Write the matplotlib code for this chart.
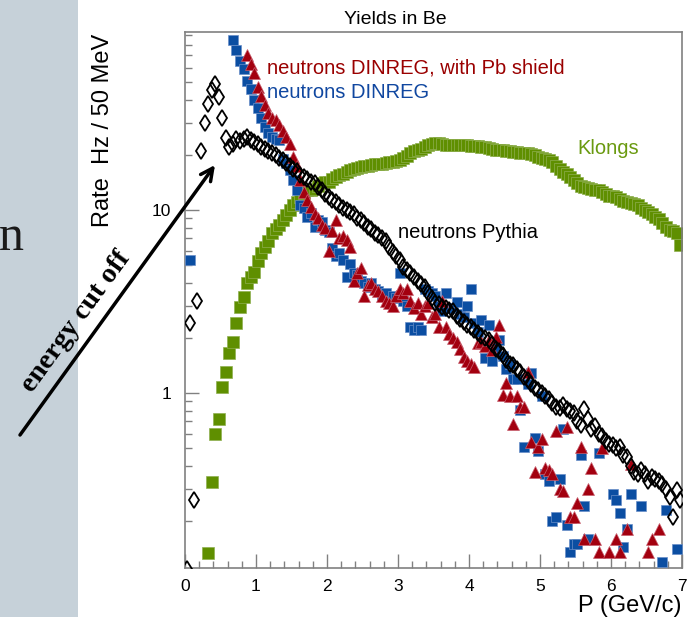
import numpy as np
import matplotlib
matplotlib.use('Agg')
import matplotlib.pyplot as plt
from matplotlib.patches import Rectangle
from matplotlib.ticker import MultipleLocator, LogLocator, FuncFormatter, NullFormatter

plt.rcParams['font.family'] = ['Liberation Sans', 'DejaVu Sans']

# 50 MeV momentum bins, centres in GeV/c
bins = np.round(np.arange(0.025, 7.0, 0.05), 3)

# neutrons, Pythia (one value per bin, 0.025 .. 6.975)
pythia = [
    0.11, 2.4, 0.26, 3.2, 21, 30, 38, 45, 48.7, 41.6,
    31.7, 24.6, 22, 23, 24.5, 23.8, 24.5, 25, 24, 23.5,
    23, 22, 21.5, 21, 20.5, 20, 19.3, 18.7, 18, 17.3,
    16.8, 16.3, 15.5, 15.2, 14.8, 14.3, 14, 13.3, 12.8, 12.2,
    11.8, 11.3, 11, 10.6, 10.3, 10, 9.7, 9.5, 9.1, 8.8,
    8.5, 8.1, 7.9, 7.5, 7.3, 7.0, 6.8, 6.3, 5.9, 5.6,
    5.3, 4.9, 4.7, 4.5, 4.3, 4.1, 3.95, 3.8, 3.5, 3.3,
    3.1, 3.05, 2.95, 2.9, 2.85, 2.8, 2.65, 2.55, 2.45, 2.35,
    2.3, 2.2, 2.12, 2.05, 2.0, 1.95, 1.85, 1.75, 1.7, 1.62,
    1.52, 1.45, 1.42, 1.35, 1.3, 1.22, 1.18, 1.12, 1.06, 1.04,
    1.0, 0.96, 0.93, 0.88, 0.84, 0.83, 0.86, 0.82, 0.8, 0.78,
    0.70, 0.67, 0.82, 0.72, 0.64, 0.66, 0.6, 0.58, 0.55, 0.53,
    0.52, 0.50, 0.51, 0.46, 0.45, 0.40, 0.37, 0.36, 0.38, 0.36,
    0.33, 0.35, 0.34, 0.33, 0.32, 0.30, 0.27, 0.21, 0.295, 0.26,
]

# K longs (bins 0.325 .. 6.975)
klong = [
    0.134, 0.327, 0.60, 0.72, 1.08, 1.30, 1.65, 1.89, 2.42, 2.95,
    3.33, 3.98, 4.3, 4.6, 5.25, 5.8, 6.3, 6.8, 7.5, 7.9,
    8.3, 8.8, 9.4, 10.0, 10.6, 11.1, 11.8, 12.4, 12.8, 12.9,
    13.1, 13.5, 14.0, 14.2, 14.3, 14.8, 15.2, 15.5, 15.8, 16.2,
    16.5, 16.8, 17.0, 17.2, 17.5, 17.5, 17.6, 17.8, 17.9, 17.9,
    18.0, 18.2, 18.4, 18.6, 18.7, 19.3, 19.8, 20.5, 21.0, 21.2,
    21.6, 22.2, 22.7, 23.0, 23.1, 23.2, 23.0, 22.6, 22.6, 22.8,
    22.7, 22.6, 22.6, 22.6, 22.5, 22.4, 22.3, 22.2, 22.0, 21.8,
    21.6, 21.4, 21.2, 21.2, 21.0, 20.9, 20.8, 20.7, 20.6, 20.5,
    20.4, 20.3, 20.0, 19.5, 19.2, 18.9, 18.7, 18.2, 17.5, 16.8,
    16.2, 15.8, 15.2, 14.6, 14.0, 13.6, 13.4, 13.2, 13.0, 12.9,
    12.8, 12.6, 12.2, 12.0, 11.9, 11.8, 11.5, 11.2, 11.0, 10.9,
    10.8, 10.6, 10.3, 10.0, 9.8, 9.5, 9.2, 8.9, 8.5, 8.1,
    7.8, 7.7, 7.5, 6.4,
]

# neutrons DINREG (no shield)
p_dinreg = [
    0.075, 0.675, 0.725, 0.775, 0.825, 0.875, 0.925, 0.975, 1.025, 1.075,
    1.125, 1.175, 1.225, 1.275, 1.325, 1.375, 1.425, 1.475, 1.525, 1.575,
    1.625, 1.675, 1.725, 1.775, 1.825, 1.875, 1.925, 1.975, 2.025, 2.075,
    2.125, 2.175, 2.225, 2.275, 2.325, 2.375, 2.425, 2.475, 2.525, 2.575,
    2.625, 2.675, 2.725, 2.775, 2.825, 2.875, 2.925, 2.975, 3.025, 3.075,
    3.125, 3.175, 3.225, 3.275, 3.325, 3.375, 3.425, 3.475, 3.525, 3.575,
    3.625, 3.675, 3.725, 3.775, 3.825, 3.875, 3.925, 3.975, 4.025, 4.075,
    4.125, 4.175, 4.225, 4.275, 4.325, 4.375, 4.425, 4.475, 4.525, 4.575,
    4.625, 4.675, 4.725, 4.775, 4.825, 4.875, 4.925, 4.975, 5.025, 5.075,
    5.125, 5.175, 5.225, 5.275, 5.325, 5.375, 5.425, 5.475, 5.525, 5.575,
    5.625, 5.675, 5.825, 6.025, 6.075, 6.125, 6.175, 6.225, 6.275, 6.425,
    6.725, 6.775, 6.925,
]
n_dinreg = [
    5.3, 85, 75, 65, 59, 51, 46, 40, 36, 32,
    28.5, 26.5, 25, 24.5, 24, 19, 18, 16.6, 14.5, 12.9,
    10.6, 10.2, 9.2, 9.6, 8.1, 8.8, 8.6, 7.8, 7.6, 6.2,
    5.6, 5.8, 5.3, 4.3, 5.1, 4.5, 4.4, 4.1, 4.0, 3.8,
    4.0, 3.7, 3.6, 3.4, 3.5, 3.2, 3.4, 3.3, 4.5, 3.2,
    3.0, 2.3, 2.2, 2.3, 2.2, 3.7, 3.6, 3.5, 3.4, 3.0,
    2.8, 3.5, 2.9, 2.9, 3.16, 2.7, 2.6, 3.0, 3.7, 2.4,
    2.15, 2.5, 1.55, 2.35, 1.5, 1.75, 1.95, 1.6, 1.36, 1.45,
    1.2, 1.2, 0.81, 0.51, 1.12, 1.28, 0.57, 0.48, 0.96, 0.36,
    0.33, 0.20, 0.21, 0.34, 0.64, 0.19, 0.136, 0.15, 0.15, 0.46,
    0.24, 0.16, 0.47, 0.28, 0.26, 0.22, 0.145, 0.18, 0.28, 0.24,
    0.12, 0.23, 0.14,
]

# neutrons DINREG with Pb shield
p_shield = [
    0.875, 0.925, 0.975, 1.025, 1.075, 1.125, 1.175, 1.225, 1.275, 1.325,
    1.375, 1.425, 1.475, 1.525, 1.575, 1.625, 1.675, 1.725, 1.775, 1.825,
    1.875, 1.925, 1.975, 2.025, 2.075, 2.125, 2.175, 2.225, 2.275, 2.325,
    2.375, 2.425, 2.475, 2.525, 2.575, 2.625, 2.675, 2.725, 2.775, 2.825,
    2.875, 2.925, 2.975, 3.025, 3.075, 3.125, 3.175, 3.225, 3.275, 3.325,
    3.375, 3.425, 3.475, 3.525, 3.575, 3.625, 3.675, 3.725, 3.775, 3.825,
    3.875, 3.925, 3.975, 4.025, 4.075, 4.125, 4.175, 4.225, 4.275, 4.325,
    4.375, 4.425, 4.475, 4.525, 4.575, 4.625, 4.675, 4.725, 4.775, 4.825,
    4.875, 4.925, 4.975, 5.025, 5.075, 5.125, 5.175, 5.225, 5.275, 5.325,
    5.375, 5.425, 5.475, 5.525, 5.575, 5.625, 5.675, 5.725, 5.775, 5.825,
    5.875, 5.975, 6.075, 6.125, 6.225, 6.275, 6.525, 6.575, 6.675,
]
n_shield = [
    70, 63, 56, 47, 42, 37.5, 34, 32, 31, 29,
    27, 25, 23, 19.5, 17.5, 14.6, 12.5, 11.3, 10.4, 9.5,
    9.0, 8.3, 8.0, 6.0, 7.7, 8.8, 7.0, 7.2, 6.9, 6.3,
    4.1, 4.5, 4.8, 3.4, 3.9, 4.0, 3.7, 3.6, 3.4, 3.2,
    3.1, 3.0, 3.4, 3.7, 3.5, 3.7, 3.2, 2.9, 3.1, 2.7,
    3.0, 3.1, 2.6, 2.7, 2.3, 3.2, 2.3, 2.1, 2.0, 1.9,
    1.75, 1.58, 1.5, 1.45, 1.39, 1.87, 1.9, 1.8, 1.95, 1.72,
    2.03, 2.35, 0.97, 1.13, 0.96, 0.68, 0.96, 0.84, 0.84, 1.3,
    0.54, 0.37, 0.51, 0.56, 0.39, 0.38, 0.36, 0.62, 0.30, 0.29,
    0.65, 0.21, 0.21, 0.25, 0.51, 0.16, 0.30, 0.39, 0.16, 0.136,
    0.50, 0.136, 0.16, 0.136, 0.18, 0.41, 0.136, 0.16, 0.18,
]

GREEN = '#5f8f00'
BLUE = '#0b4ea2'
RED = '#a3000f'
GREY = '#808080'

W, H = 693, 617
fig = plt.figure(figsize=(W / 100, H / 100), dpi=100)

# slide background strip on the left
fig.patches.append(Rectangle((0, 0), 78 / W, 1, transform=fig.transFigure,
                             facecolor='#c6d1d9', edgecolor='none', zorder=-10))
fig.text(11 / W, 1 - 238 / H, 'n', fontsize=36, family=['Liberation Serif', 'DejaVu Serif'],
         ha='center', va='center', color='#1a1a1a')

ax = fig.add_axes([185 / W, 1 - 568 / H, 497 / W, 536 / H])
ax.set_yscale('log')

ax.plot(bins[6:], klong, ls='none', marker='s', ms=9.2, color=GREEN,
        mec='#8fb050', mew=0.5, zorder=2)
ax.plot(p_dinreg, n_dinreg, ls='none', marker='s', ms=7.8, color=BLUE,
        mec='#6a8fc8', mew=0.5, zorder=3)
ax.plot(p_shield, n_shield, ls='none', marker='^', ms=8.5, color=RED,
        mec='#c86070', mew=0.5, zorder=4)
ax.plot(bins, pythia, ls='none', marker='d', ms=8, mfc='none', mec='black',
        mew=1.3, zorder=5)

ax.set_xlim(0, 7)
ax.set_ylim(0.1107, 93.9)

ax.xaxis.set_major_locator(MultipleLocator(1))
ax.xaxis.set_minor_locator(MultipleLocator(0.2))
ax.yaxis.set_major_locator(LogLocator(base=10))
ax.yaxis.set_minor_locator(LogLocator(base=10, subs=np.arange(2, 10)))
ax.yaxis.set_major_formatter(FuncFormatter(lambda v, _: f'{v:g}'))
ax.yaxis.set_minor_formatter(NullFormatter())

ax.tick_params(which='both', direction='in', color=GREY, width=1,
               top=False, right=False, labelsize=12.5)
ax.tick_params(which='major', length=10)
ax.tick_params(which='minor', length=5)
ax.tick_params(axis='x', pad=8)
ax.tick_params(axis='y', pad=10)
for s in ax.spines.values():
    s.set_color(GREY)
    s.set_linewidth(1.2)

# titles, ROOT style
fig.text(395 / W, 1 - 20 / H, 'Yields in Be', fontsize=14, ha='center', va='center')
fig.text(682 / W, 1 - 606 / H, 'P (GeV/c)', fontsize=17, ha='right', va='center')
fig.text(103 / W, 1 - 34 / H, 'Rate  Hz / 50 MeV', fontsize=17, rotation=90,
         ha='center', va='top')

# series labels
fig.text(267 / W, 1 - 68 / H, 'neutrons DINREG, with Pb shield', fontsize=14.5,
         color='#9a0000', va='center')
fig.text(267 / W, 1 - 92 / H, 'neutrons DINREG', fontsize=14.5, color='#1047a0',
         va='center')
fig.text(577 / W, 1 - 148 / H, 'Klongs', fontsize=14.5, color='#6a9a10', va='center')
fig.text(398 / W, 1 - 232 / H, 'neutrons Pythia', fontsize=14.5, color='black',
         va='center')

# energy cut-off arrow
ax.annotate('', xy=(215 / W, 1 - 165 / H), xytext=(20 / W, 1 - 435 / H),
            xycoords='figure fraction', textcoords='figure fraction',
            arrowprops=dict(arrowstyle='->', lw=2.5, color='black',
                            mutation_scale=22, shrinkA=0, shrinkB=0),
            annotation_clip=False)
fig.text(76 / W, 1 - 322 / H, 'energy cut off', fontsize=20.5, fontweight='bold',
         family=['Liberation Serif', 'DejaVu Serif'], rotation=54,
         rotation_mode='anchor', ha='center', va='center')

fig.savefig('out.png', dpi=100)
